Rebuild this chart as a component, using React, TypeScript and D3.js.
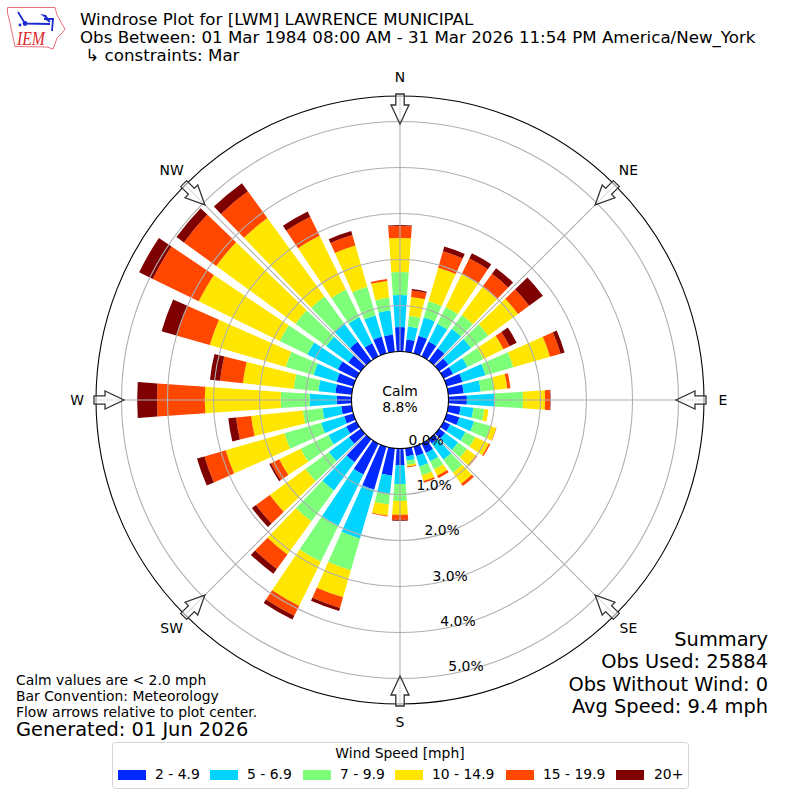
import React from 'react';
import * as d3 from 'd3';

// direction bins, degrees clockwise from north
const directions = [0, 10, 20, 30, 40, 50, 60, 70, 80, 90, 100, 110, 120, 130, 140, 150, 160, 170,
  180, 190, 200, 210, 220, 230, 240, 250, 260, 270, 280, 290, 300, 310, 320, 330, 340, 350];

// percent of obs per speed bin
const speed2to5 = [.53, .27, .40, .36, .34, .25, .23, .36, .34, .40, .27, .29, .16, .16, .12, .23, .21, .18,
  .36, .60, .97, .75, .62, .32, .25, .21, .23, .32, .36, .38, .45, .34, .51, .32, .38, .38];
const speed5to7 = [.70, .28, .41, .43, .52, .61, .35, .52, .37, .61, .28, .33, .37, .35, .43, .20, .24, .09,
  .41, .41, 1.11, 1.24, .76, .54, .43, .52, .41, .59, .37, .52, .74, .59, .48, .63, .48, .52];
const speed7to10 = [.50, .24, .37, .41, .37, .46, .39, .63, .30, .61, .24, .37, .24, .24, .35, .20, .20, .09,
  .37, .22, .72, .87, .83, .63, .67, .83, .43, .63, .54, .63, .67, .83, .74, .67, .65, .28];
const speed10to15 = [.74, .41, .76, .80, .76, .80, .48, .83, .28, .48, .09, .13, .33, .24, .30, .15, .13, .04,
  .30, .24, .61, 1.07, .89, .96, .52, 1.33, 1.13, 1.65, 1.11, 1.72, 1.96, 2.13, 2.11, 1.30, .93, .37];
const speed15to20 = [.26, .14, .37, .37, .35, .30, .15, .24, .07, .11, 0, .01, .03, .03, .06, .06, .04, .02,
  .11, .02, .24, .24, .39, .37, .20, .48, .33, 1.04, .50, .74, 1.11, .87, .72, .46, .24, .04];
const speed20plus = [.02, .03, .11, .13, .15, .37, .17, .09, 0, .01, 0, 0, 0, 0, 0, 0, 0, 0,
  .02, 0, .07, .09, .13, .11, .04, .17, .17, .43, .22, .35, .33, .20, .22, .13, .09, 0];

const speedLabels = ['2 - 4.9', '5 - 6.9', '7 - 9.9', '10 - 14.9', '15 - 19.9', '20+'];
const speedColors = ['#0028ff', '#00d4ff', '#7dff7a', '#ffe600', '#ff4700', '#7f0000'];
const rTicks = [0, 1, 2, 3, 4, 5];
const compass = ['N', 'NE', 'E', 'SE', 'S', 'SW', 'W', 'NW'];

const titleLines = [
  'Windrose Plot for [LWM] LAWRENCE MUNICIPAL',
  'Obs Between: 01 Mar 1984 08:00 AM - 31 Mar 2026 11:54 PM America/New_York',
  ' \u21b3 constraints: Mar',
];
const noteLines = ['Calm values are < 2.0 mph', 'Bar Convention: Meteorology', 'Flow arrows relative to plot center.'];
const summaryLines = ['Summary', 'Obs Used: 25884', 'Obs Without Wind: 0', 'Avg Speed: 9.4 mph'];

const FONT = '"DejaVu Sans", sans-serif';
const cx = 400;
const cy = 400;
const outerR = 304;
const barDeg = 7.8;

const rScale = d3.scaleLinear().domain([0, 5]).range([48.5, 278.5]);

const rows = directions.map((dir, i) => ({
  dir,
  s0: speed2to5[i], s1: speed5to7[i], s2: speed7to10[i], s3: speed10to15[i], s4: speed15to20[i], s5: speed20plus[i],
}));
const stacked = d3.stack<any>().keys(['s0', 's1', 's2', 's3', 's4', 's5'])(rows);

const rad = (deg: number) => (deg * Math.PI) / 180;
const arc = d3.arc<any>();
const wedge = (dir: number, lo: number, hi: number) =>
  arc({
    innerRadius: rScale(lo),
    outerRadius: rScale(hi),
    startAngle: rad(dir - barDeg / 2),
    endAngle: rad(dir + barDeg / 2),
  }) as string;

// point on the polar plot, angle clockwise from north
const polar = (deg: number, r: number) => [cx + r * Math.sin(rad(deg)), cy - r * Math.cos(rad(deg))];

// arrow pointing at plot center, drawn for north and rotated
const arrowPath = d3.line()([
  [-4.2, -306], [4.2, -306], [4.2, -295], [9, -295], [0, -276], [-9, -295], [-4.2, -295],
]) + 'Z';

const legendSwatchX = [118, 210, 303, 395, 506, 616];
const legendTextX = [155, 247, 340, 432, 543, 654];

const App = () => {
  return (
    <svg width={800} height={800} style={{ position: 'absolute', left: 0, top: 0 }} fontFamily={FONT}>
      <rect width={800} height={800} fill="#fff" />

      {/* logo */}
      <g fill="none">
        <path
          d="M7.5 7.5 L55 7.5 L57 15 L62 24 L65 29 L62 33 L57 38 L55 44 L53 49 L47 47 L15 46.5 L13 37 L10 23 L7.5 13 Z"
          stroke="#e8707a"
          strokeWidth={1}
        />
        <path d="M25 23.5 L50 24 M18 12 L25 23.5 M45 18 L50 22 M44 19 L54 19 M53 19 L52 31" stroke="#1c2bd0" strokeWidth={1.8} />
        <circle cx={25} cy={23.5} r={2.4} fill="#1c2bd0" />
        <path d="M40 14 L46 15 L50 21 Z" fill="#1c2bd0" />
        <circle cx={20} cy={25} r={1.4} fill="#1c2bd0" />
      </g>
      <text x={17} y={45} fontFamily='"Liberation Serif", serif' fontStyle="italic" fontSize={18} fill="#d8262c" textLength={28} lengthAdjust="spacingAndGlyphs">IEM</text>

      {titleLines.map((t, i) => (
        <text key={i} x={80} y={25 + i * 18} fontSize={16.67} fill="#000" xmlSpace="preserve">{t}</text>
      ))}

      <g transform={`translate(${cx},${cy})`}>
        {stacked.map((layer, k) => (
          <g key={k} fill={speedColors[k]}>
            {layer.map((d, i) => (d[1] - d[0] > 0 ? <path key={i} d={wedge(directions[i], d[0], d[1])} /> : null))}
          </g>
        ))}
      </g>

      {/* grid */}
      <g fill="none" stroke="#b0b0b0" strokeWidth={1.1}>
        {rTicks.slice(1).map(t => <circle key={t} cx={cx} cy={cy} r={rScale(t)} />)}
        {compass.map((c, i) => {
          const [x1, y1] = polar(i * 45, rScale(0));
          const [x2, y2] = polar(i * 45, outerR);
          return <line key={c} x1={x1} y1={y1} x2={x2} y2={y2} />;
        })}
      </g>
      <circle cx={cx} cy={cy} r={outerR} fill="none" stroke="#000" strokeWidth={1.1} />
      <circle cx={cx} cy={cy} r={rScale(0)} fill="#fff" stroke="#000" strokeWidth={1.1} />

      {compass.map((c, i) => (
        <path key={c} d={arrowPath} transform={`translate(${cx},${cy}) rotate(${i * 45})`} fill="#fff" fillOpacity={0.55} stroke="#333" strokeWidth={1.3} />
      ))}

      {compass.map((c, i) => {
        const [x, y] = polar(i * 45, 323);
        const dy = c === 'NE' || c === 'NW' ? 3 : c === 'S' ? 4 : 5;
        return <text key={c} x={x} y={y + dy} textAnchor="middle" fontSize={13.9} fill="#000">{c}</text>;
      })}

      {rTicks.map(t => {
        const [x, y] = polar(170, rScale(t));
        return <text key={t} x={x} y={y - 3} fontSize={13.9} fill="#000">{t.toFixed(1)}%</text>;
      })}

      <text x={cx} y={396} textAnchor="middle" fontSize={13.9}>Calm</text>
      <text x={cx} y={412} textAnchor="middle" fontSize={13.9}>8.8%</text>

      {noteLines.map((t, i) => (
        <text key={i} x={16} y={685 + i * 16} fontSize={13.9}>{t}</text>
      ))}
      <text x={16} y={736} fontSize={19.4}>Generated: 01 Jun 2026</text>

      {summaryLines.map((t, i) => (
        <text key={i} x={768} y={646 + i * 22.3} textAnchor="end" fontSize={19.4}>{t}</text>
      ))}

      {/* legend */}
      <rect x={112.5} y={742.5} width={576} height={46} rx={3} fill="#fff" stroke="#d4d4d4" strokeWidth={1} />
      <text x={400} y={758} textAnchor="middle" fontSize={13.9}>Wind Speed [mph]</text>
      {speedLabels.map((s, i) => (
        <g key={s}>
          <rect x={legendSwatchX[i]} y={770} width={28} height={10} fill={speedColors[i]} />
          <text x={legendTextX[i]} y={779} fontSize={13.9}>{s}</text>
        </g>
      ))}
    </svg>
  );
};

export default App;
